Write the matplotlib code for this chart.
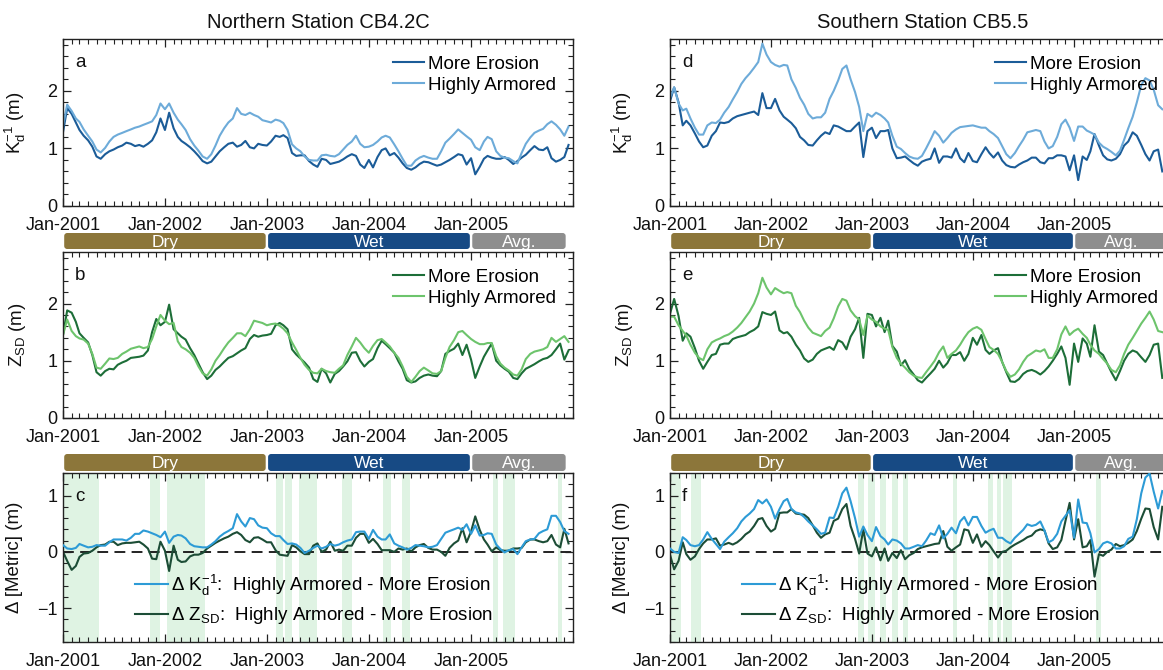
import numpy as np
import pandas as pd
import matplotlib
matplotlib.use('Agg')
import matplotlib.pyplot as plt
import matplotlib.dates as mdates
from matplotlib.ticker import FixedLocator, MultipleLocator
from matplotlib.patches import FancyBboxPatch

plt.rcParams['font.family'] = ['Liberation Sans', 'DejaVu Sans']
plt.rcParams['mathtext.fontset'] = 'custom'
plt.rcParams['mathtext.rm'] = 'Liberation Sans'
plt.rcParams['mathtext.it'] = 'Liberation Sans:italic'
plt.rcParams['mathtext.bf'] = 'Liberation Sans:bold'

# ---------------- data ----------------
dates = pd.to_datetime([f'{y}-{m:02d}-{d:02d}' for y in range(2001, 2006)
                        for m in range(1, 13) for d in (1, 16)])

# Northern station CB4.2C
kd_more_erosion_n = [1.28,1.70,1.60,1.45,1.32,1.22,1.14,1.03,0.86,0.82,
 0.90,0.95,0.98,1.02,1.05,1.10,1.08,1.04,1.06,1.03,
 1.08,1.14,1.28,1.52,1.32,1.62,1.35,1.20,1.13,1.08,
 1.02,0.95,0.87,0.78,0.74,0.77,0.86,0.95,1.02,1.08,
 1.10,1.03,1.06,1.13,1.02,1.00,1.08,1.06,1.05,1.12,
 1.22,1.20,1.23,1.18,0.92,0.87,0.88,0.88,0.78,0.72,
 0.68,0.82,0.80,0.73,0.75,0.77,0.81,0.86,0.90,0.87,
 0.72,0.66,0.80,0.67,0.85,0.97,1.00,0.88,0.92,0.84,
 0.74,0.66,0.63,0.67,0.73,0.77,0.76,0.73,0.70,0.72,
 0.76,0.80,0.85,0.90,0.88,0.72,0.83,0.55,0.68,0.82,
 0.87,0.84,0.82,0.82,0.85,0.80,0.73,0.78,0.84,0.89,
 0.97,1.04,0.98,0.97,1.02,0.83,0.77,0.80,0.85,1.06]
kd_armored_n = [1.40,1.76,1.65,1.52,1.46,1.33,1.22,1.12,0.98,0.93,
 1.01,1.12,1.20,1.24,1.27,1.30,1.33,1.36,1.38,1.41,
 1.44,1.47,1.58,1.78,1.68,1.78,1.62,1.50,1.42,1.32,
 1.16,1.05,0.96,0.86,0.82,0.90,1.05,1.22,1.35,1.45,
 1.52,1.70,1.60,1.58,1.62,1.58,1.55,1.49,1.47,1.45,
 1.50,1.48,1.44,1.32,1.07,1.00,0.95,0.86,0.80,0.79,
 0.79,0.88,0.89,0.87,0.86,0.90,0.98,1.06,1.12,1.22,
 1.08,1.02,1.03,1.06,1.12,1.19,1.22,1.19,1.07,0.95,
 0.82,0.70,0.70,0.79,0.84,0.87,0.84,0.82,0.82,0.95,
 1.10,1.17,1.25,1.33,1.27,1.21,1.15,1.02,0.97,1.12,
 1.20,1.16,0.95,0.87,0.84,0.83,0.78,0.74,0.92,1.08,
 1.19,1.27,1.31,1.34,1.42,1.47,1.41,1.33,1.22,1.38]
zsd_more_erosion_n = [1.45,1.88,1.84,1.68,1.48,1.40,1.32,1.10,0.80,0.74,
 0.82,0.86,0.85,0.93,0.97,1.00,1.05,1.06,1.07,1.09,
 1.18,1.50,1.73,1.62,1.68,1.98,1.55,1.48,1.42,1.37,
 1.22,1.10,0.95,0.80,0.68,0.74,0.84,0.90,0.98,1.05,
 1.08,1.13,1.18,1.22,1.38,1.45,1.42,1.44,1.45,1.47,
 1.62,1.66,1.62,1.55,1.20,1.11,1.04,0.97,0.88,0.68,
 0.63,0.86,0.78,0.62,0.77,0.82,0.90,0.99,1.14,1.15,
 1.00,0.90,0.98,1.03,1.22,1.35,1.29,1.22,1.14,0.99,
 0.86,0.66,0.62,0.64,0.70,0.74,0.76,0.74,0.73,0.82,
 1.12,1.17,1.21,1.30,1.10,1.28,1.02,0.70,0.90,1.07,
 1.18,1.30,1.00,0.92,0.86,0.81,0.70,0.68,0.78,0.86,
 0.90,0.94,0.99,1.03,1.05,1.10,1.20,1.30,1.02,1.18]
zsd_armored_n = [1.45,1.72,1.52,1.43,1.39,1.37,1.30,1.12,0.88,0.86,
 0.95,1.04,1.03,1.05,1.12,1.16,1.21,1.23,1.25,1.22,
 1.24,1.38,1.60,1.80,1.70,1.64,1.66,1.34,1.24,1.20,
 1.14,1.05,0.90,0.78,0.74,0.85,1.00,1.10,1.22,1.32,
 1.40,1.48,1.48,1.43,1.55,1.70,1.68,1.66,1.62,1.64,
 1.65,1.61,1.56,1.48,1.32,1.19,1.05,0.93,0.84,0.79,
 0.78,0.86,0.82,0.80,0.79,0.86,0.92,1.10,1.25,1.40,
 1.32,1.22,1.14,1.26,1.36,1.38,1.32,1.25,1.14,1.05,
 0.90,0.72,0.63,0.72,0.82,0.88,0.83,0.78,0.77,0.82,
 1.05,1.24,1.36,1.50,1.52,1.45,1.38,1.33,1.29,1.29,
 1.31,1.31,1.08,0.95,0.88,0.83,0.76,0.74,0.85,1.03,
 1.12,1.16,1.18,1.20,1.24,1.40,1.33,1.38,1.43,1.33]

# Southern station CB5.5 (visible part of the record)
kd_more_erosion_s = [1.82,2.06,1.80,1.40,1.48,1.40,1.26,1.12,1.02,1.05,
 1.22,1.30,1.45,1.44,1.46,1.52,1.56,1.58,1.60,1.62,
 1.64,1.58,1.96,1.70,1.70,1.86,1.66,1.55,1.50,1.44,
 1.35,1.20,1.14,1.06,1.05,1.14,1.22,1.28,1.25,1.40,
 1.38,1.34,1.30,1.30,1.38,1.45,0.85,1.30,1.36,1.18,
 1.30,1.30,1.32,1.00,0.83,0.84,0.86,0.80,0.74,0.70,
 0.77,0.80,0.82,1.00,0.75,0.86,0.86,0.84,1.00,0.83,
 0.76,0.92,0.78,0.76,0.90,1.02,0.92,0.84,0.93,0.79,
 0.71,0.68,0.67,0.72,0.76,0.79,0.84,0.84,0.76,0.74,
 0.83,0.83,0.88,0.88,0.86,0.62,0.88,0.45,0.86,0.80,
 0.95,1.25,1.05,0.88,0.81,0.79,0.82,0.90,1.05,1.12,
 1.28,1.22,1.06,0.90,0.79,0.95,0.98,0.60]
kd_armored_s = [1.88,2.06,1.78,1.66,1.69,1.52,1.36,1.24,1.24,1.40,
 1.45,1.44,1.50,1.62,1.72,1.85,1.98,2.12,2.22,2.30,
 2.40,2.50,2.82,2.63,2.50,2.45,2.42,2.45,2.44,2.20,
 2.05,1.88,1.76,1.60,1.52,1.54,1.54,1.62,1.86,2.00,
 2.18,2.38,2.44,2.20,1.98,1.72,1.30,1.60,1.55,1.62,
 1.58,1.52,1.45,1.22,1.03,0.99,0.92,0.86,0.83,0.82,
 0.87,1.00,1.15,1.30,1.22,1.10,1.18,1.27,1.33,1.37,
 1.38,1.39,1.40,1.38,1.36,1.36,1.30,1.25,1.18,1.04,
 0.90,0.83,0.92,1.04,1.15,1.28,1.30,1.32,1.30,1.12,
 1.00,1.04,1.20,1.42,1.50,1.36,1.13,1.38,1.38,1.31,
 1.28,1.24,1.10,1.03,0.99,0.94,0.88,0.96,1.15,1.35,
 1.55,1.80,2.10,2.22,2.18,2.02,1.75,1.68]
zsd_more_erosion_s = [1.82,2.08,1.78,1.35,1.48,1.42,1.22,1.00,0.86,0.98,
 1.10,1.12,1.28,1.30,1.30,1.38,1.41,1.43,1.45,1.50,
 1.54,1.60,1.85,1.82,1.80,1.86,1.53,1.48,1.50,1.42,
 1.28,1.18,1.04,0.98,1.02,1.12,1.18,1.21,1.24,1.19,
 1.36,1.32,1.20,1.42,1.55,1.75,1.05,1.82,1.80,1.60,
 1.75,1.50,1.70,1.26,1.16,0.92,1.01,0.86,0.76,0.66,
 0.62,0.70,0.78,0.86,1.00,0.88,0.96,1.10,1.10,1.15,
 1.00,1.12,1.40,1.28,1.45,1.19,1.12,1.18,1.22,0.98,
 0.80,0.64,0.63,0.68,0.77,0.82,0.84,0.81,0.76,0.82,
 0.90,1.00,1.12,1.25,1.05,0.58,1.30,0.98,1.39,1.30,
 1.07,1.62,1.16,1.10,0.95,0.80,0.66,0.82,1.00,1.12,
 1.18,1.15,1.06,0.98,1.10,1.28,1.30,0.70]
zsd_armored_s = [1.77,1.77,1.62,1.52,1.44,1.28,1.14,1.05,1.01,1.20,
 1.32,1.36,1.39,1.43,1.46,1.51,1.58,1.66,1.76,1.86,
 2.00,2.18,2.45,2.28,2.16,2.27,2.22,2.18,2.20,2.18,
 1.96,1.85,1.70,1.58,1.49,1.46,1.43,1.52,1.58,1.74,
 1.95,2.08,2.05,1.88,1.78,1.72,1.45,1.79,1.72,1.68,
 1.60,1.56,1.54,1.24,1.05,0.95,0.88,0.80,0.74,0.71,
 0.70,0.80,0.90,1.00,1.15,1.25,1.05,1.12,1.18,1.28,
 1.40,1.50,1.56,1.59,1.54,1.38,1.24,1.19,1.12,0.98,
 0.82,0.72,0.76,0.85,0.98,1.08,1.13,1.18,1.16,1.20,
 1.05,1.05,1.20,1.46,1.60,1.45,1.52,1.56,1.47,1.40,
 1.28,1.18,1.12,1.03,0.95,0.84,0.80,0.92,1.12,1.28,
 1.40,1.52,1.65,1.75,1.86,1.72,1.52,1.50]

# hydrologic periods
period_names = ['Dry', 'Wet', 'Avg.']
period_start = ['2001-01-01', '2003-01-01', '2005-01-01']
period_end = ['2003-01-01', '2005-01-01', '2005-12-10']

# shaded intervals in the difference panels
bands_n_start = ['2001-01-01','2001-11-10','2002-01-08','2003-02-04','2003-03-08','2003-04-27',
                 '2003-09-27','2004-02-19','2004-04-27','2005-03-21','2005-04-25','2005-11-07']
bands_n_end = ['2001-05-10','2001-12-15','2002-05-25','2003-02-28','2003-04-01','2003-06-28',
               '2003-11-03','2004-03-22','2004-05-27','2005-04-06','2005-06-08','2005-11-23']
bands_s_start = ['2001-01-01','2001-03-18','2002-11-12','2002-12-18','2003-02-01','2003-03-14',
                 '2003-04-24','2003-10-22','2004-02-26','2004-03-28','2004-04-20','2005-03-20']
bands_s_end = ['2001-02-10','2001-04-22','2002-12-05','2003-01-12','2003-02-22','2003-04-06',
               '2003-05-10','2003-11-06','2004-03-14','2004-04-12','2004-05-22','2005-04-10']

year_ticks = ['2001-01-01', '2002-01-01', '2003-01-01', '2004-01-01', '2005-01-01']
x_start, x_end = '2001-01-01', '2006-01-01'

# ---------------- style ----------------
C_K_ME = '#1b5c98'
C_K_HA = '#6dabd9'
C_Z_ME = '#1d6e38'
C_Z_HA = '#6dc46c'
C_DK = '#2d9bd6'
C_DZ = '#1c4d36'
C_BAND = '#dff3e3'
C_PER = ['#8c763a', '#174a84', '#8e8e8e']

W, H = 1163, 670
fig = plt.figure(figsize=(W / 100, H / 100), dpi=100)

def px_axes(x0, y0, x1, y1):
    return fig.add_axes([x0 / W, 1 - y1 / H, (x1 - x0) / W, (y1 - y0) / H])

d0 = mdates.date2num(pd.Timestamp(x_start))
d1 = mdates.date2num(pd.Timestamp(x_end))

def style(ax, ylim, yticks, ylabel, letter, width_px, label_x):
    ax.set_xlim(d0, d1)
    ax.set_ylim(*ylim)
    ax.xaxis.set_major_locator(FixedLocator(mdates.date2num(pd.to_datetime(year_ticks))))
    ax.xaxis.set_major_formatter(mdates.DateFormatter('Jan-%Y'))
    ax.xaxis.set_minor_locator(mdates.MonthLocator())
    ax.yaxis.set_major_locator(FixedLocator(yticks))
    ax.yaxis.set_minor_locator(MultipleLocator(0.2))
    ax.tick_params(which='both', direction='in', top=True, right=True, colors='#222222',
                   labelcolor='#111111')
    ax.tick_params(which='major', length=6, width=0.9, labelsize=13, pad=4)
    ax.tick_params(which='minor', length=3.5, width=0.8)
    ax.tick_params(axis='x', which='major', pad=8)
    for s in ax.spines.values():
        s.set_linewidth(1.0)
        s.set_color('#222222')
    ax.set_ylabel(ylabel, fontsize=13.5, color='#111111')
    ax.yaxis.set_label_coords(-label_x / width_px, 0.5)
    ax.text(12 / width_px, 0.86, letter, transform=ax.transAxes, fontsize=13.5,
            ha='left', va='center', color='#111111')

def draw_periods(bax, width_px, height_px):
    bax.set_xlim(d0, d1)
    bax.set_ylim(0, 1)
    bax.axis('off')
    dpp = (d1 - d0) / width_px
    rx = 3.0 * dpp
    ry = 3.0 / height_px
    inset = 1.2 * dpp
    for name, s, e, c in zip(period_names, period_start, period_end, C_PER):
        x0 = mdates.date2num(pd.Timestamp(s)) + inset
        x1 = mdates.date2num(pd.Timestamp(e)) - inset
        p = FancyBboxPatch((x0 + rx, ry), (x1 - x0) - 2 * rx, 1 - 2 * ry,
                           boxstyle=f'round,pad={rx},rounding_size={rx}',
                           mutation_aspect=ry / rx, facecolor=c, edgecolor='none',
                           clip_on=False)
        bax.add_patch(p)
        bax.text((x0 + x1) / 2, 0.42, name, color='white', ha='center', va='center',
                 fontsize=12.5)

stations = [
    dict(x0=63, x1=573, title='Northern Station CB4.2C', letters='abc',
         kme=kd_more_erosion_n, kha=kd_armored_n, zme=zsd_more_erosion_n, zha=zsd_armored_n,
         bs=bands_n_start, be=bands_n_end),
    dict(x0=670, x1=1175, title='Southern Station CB5.5', letters='def',
         kme=kd_more_erosion_s, kha=kd_armored_s, zme=zsd_more_erosion_s, zha=zsd_armored_s,
         bs=bands_s_start, be=bands_s_end),
]

kd_label = 'K$_\\mathregular{d}^\\mathregular{-1}$ (m)'
zsd_label = 'Z$_\\mathregular{SD}$ (m)'

for st in stations:
    x0, x1 = st['x0'], st['x1']
    wpx = x1 - x0
    t = dates[:len(st['kme'])]
    kme = np.array(st['kme']); kha = np.array(st['kha'])
    zme = np.array(st['zme']); zha = np.array(st['zha'])

    # Kd panel
    ax1 = px_axes(x0, 39, x1, 206)
    ax1.plot(t, kme, color=C_K_ME, lw=1.5, label='More Erosion')
    ax1.plot(t, kha, color=C_K_HA, lw=1.5, label='Highly Armored')
    style(ax1, (0, 2.9), [0, 1, 2], kd_label, st['letters'][0], wpx, 35)
    ax1.set_title(st['title'], fontsize=14.5, pad=8, color='#111111')
    ax1.legend(loc='upper right', frameon=False, fontsize=13.5, handlelength=1.65,
               handletextpad=0.2, labelspacing=0.2, borderaxespad=0.7, borderpad=0.2)

    b1 = px_axes(x0, 233, x1, 249)
    draw_periods(b1, wpx, 16)

    # Zsd panel
    ax2 = px_axes(x0, 252, x1, 418)
    ax2.plot(t, zme, color=C_Z_ME, lw=1.5, label='More Erosion')
    ax2.plot(t, zha, color=C_Z_HA, lw=1.5, label='Highly Armored')
    style(ax2, (0, 2.9), [0, 1, 2], zsd_label, st['letters'][1], wpx, 35)
    ax2.legend(loc='upper right', frameon=False, fontsize=13.5, handlelength=1.65,
               handletextpad=0.2, labelspacing=0.2, borderaxespad=0.7, borderpad=0.2)

    b2 = px_axes(x0, 454, x1, 471)
    draw_periods(b2, wpx, 17)

    # difference panel
    ax3 = px_axes(x0, 473, x1, 642)
    for s, e in zip(st['bs'], st['be']):
        ax3.axvspan(pd.Timestamp(s), pd.Timestamp(e), color=C_BAND, lw=0, zorder=0)
    ax3.axhline(0, color='#111111', lw=1.3, ls=(0, (6, 3.5)), zorder=1)
    ax3.plot(t, kha - kme, color=C_DK, lw=1.5, zorder=3,
             label='Δ K$_\\mathregular{d}^\\mathregular{-1}$:  Highly Armored - More Erosion')
    ax3.plot(t, zha - zme, color=C_DZ, lw=1.5, zorder=2,
             label='Δ Z$_\\mathregular{SD}$:  Highly Armored - More Erosion')
    style(ax3, (-1.6, 1.4), [-1, 0, 1], 'Δ [Metric] (m)', st['letters'][2], wpx, 40)
    ax3.legend(loc='lower left', bbox_to_anchor=(68 / wpx, 0.07), frameon=False,
               fontsize=13.5, handlelength=1.75, handletextpad=0.2, labelspacing=0.4,
               borderaxespad=0.0, borderpad=0.2)

fig.savefig('out.png', dpi=100)
